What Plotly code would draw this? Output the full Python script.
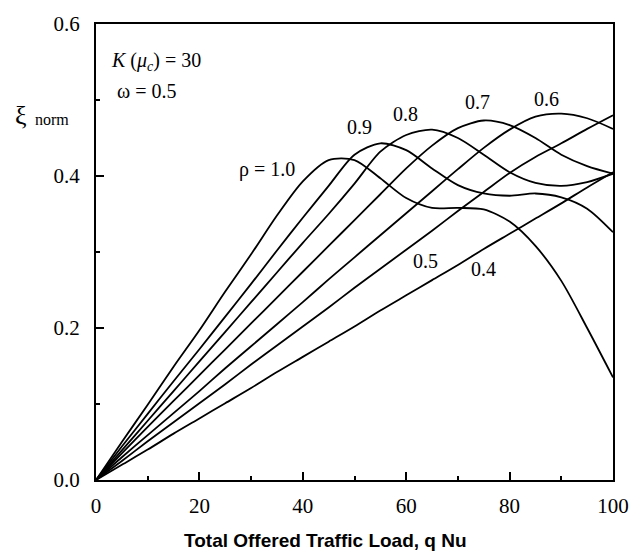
import plotly.graph_objects as go

load = [0, 5, 10, 15, 20, 25, 30, 35, 40, 45, 50, 55, 60, 65, 70, 75, 80, 85, 90, 95, 100]

rho_1_0 = [0, 0.050, 0.099, 0.149, 0.197, 0.248, 0.297, 0.348, 0.393, 0.421, 0.421, 0.397, 0.371, 0.358, 0.358, 0.356, 0.340, 0.308, 0.262, 0.200, 0.135]
rho_0_9 = [0, 0.044, 0.087, 0.130, 0.172, 0.215, 0.258, 0.302, 0.345, 0.387, 0.428, 0.443, 0.434, 0.410, 0.388, 0.377, 0.374, 0.377, 0.372, 0.357, 0.326]
rho_0_8 = [0, 0.039, 0.078, 0.117, 0.156, 0.195, 0.234, 0.273, 0.312, 0.350, 0.390, 0.432, 0.454, 0.461, 0.450, 0.428, 0.405, 0.391, 0.387, 0.392, 0.403]
rho_0_7 = [0, 0.035, 0.070, 0.104, 0.138, 0.172, 0.206, 0.240, 0.274, 0.308, 0.342, 0.376, 0.410, 0.440, 0.463, 0.473, 0.467, 0.450, 0.428, 0.413, 0.403]
rho_0_6 = [0, 0.030, 0.059, 0.088, 0.117, 0.147, 0.176, 0.205, 0.234, 0.264, 0.293, 0.322, 0.351, 0.380, 0.409, 0.437, 0.461, 0.478, 0.482, 0.476, 0.462]
rho_0_5 = [0, 0.025, 0.051, 0.076, 0.101, 0.126, 0.152, 0.177, 0.202, 0.227, 0.253, 0.278, 0.303, 0.328, 0.354, 0.379, 0.404, 0.425, 0.443, 0.462, 0.480]
rho_0_4 = [0, 0.020, 0.040, 0.061, 0.081, 0.101, 0.121, 0.142, 0.162, 0.182, 0.202, 0.223, 0.243, 0.263, 0.283, 0.304, 0.324, 0.344, 0.364, 0.385, 0.405]

series = [rho_1_0, rho_0_9, rho_0_8, rho_0_7, rho_0_6, rho_0_5, rho_0_4]
series_names = ["ρ = 1.0", "0.9", "0.8", "0.7", "0.6", "0.5", "0.4"]
label_x = [33.0, 50.9, 59.8, 73.8, 87.2, 63.8, 74.9]
label_y = [0.409, 0.465, 0.481, 0.497, 0.501, 0.288, 0.277]

x_ticks = [0, 20, 40, 60, 80, 100]
y_ticks = [0.0, 0.2, 0.4, 0.6]

serif = "Liberation Serif, Times New Roman, serif"

fig = go.Figure()
for vals, name in zip(series, series_names):
    fig.add_trace(go.Scatter(x=load, y=vals, mode="lines", name=name,
                             line=dict(color="black", width=1.8, shape="spline", smoothing=0.8),
                             showlegend=False, hoverinfo="skip"))

for name, lx, ly in zip(series_names, label_x, label_y):
    fig.add_annotation(x=lx, y=ly, xref="x", yref="y", text=name, showarrow=False,
                       font=dict(family=serif, size=20, color="black"))

fig.add_annotation(x=2.6, y=0.551, xref="x", yref="y", xanchor="left",
                   text="<i>K</i> (<i>μ<sub>c</sub></i>) = 30", showarrow=False,
                   font=dict(family=serif, size=20, color="black"))
fig.add_annotation(x=3.6, y=0.512, xref="x", yref="y", xanchor="left",
                   text="ω = 0.5", showarrow=False,
                   font=dict(family=serif, size=20, color="black"))

# y-axis label: xi (large) + "norm" (small)
fig.add_annotation(x=-0.160, y=0.800, xref="paper", yref="paper", xanchor="left", yanchor="middle",
                   text="ξ", showarrow=False, font=dict(family=serif, size=26, color="black"))
fig.add_annotation(x=-0.122, y=0.790, xref="paper", yref="paper", xanchor="left", yanchor="middle",
                   text="norm", showarrow=False, font=dict(family=serif, size=16, color="black"))

fig.add_annotation(x=0.443, y=-0.133, xref="paper", yref="paper", xanchor="center", yanchor="middle",
                   text="<b>Total Offered Traffic Load, q Nu</b>", showarrow=False,
                   font=dict(family="Liberation Sans, Arial, sans-serif", size=19, color="black"))

fig.update_layout(
    width=641, height=558,
    margin=dict(l=96, r=15, t=15, b=78),
    paper_bgcolor="white", plot_bgcolor="white",
    xaxis=dict(range=[0, 100], tickvals=x_ticks, ticktext=[str(v) for v in x_ticks],
               ticks="inside", ticklen=8, tickwidth=1.5, tickcolor="black",
               showline=True, linewidth=2, linecolor="black", mirror=True,
               showgrid=False, zeroline=False, ticklabelstandoff=6,
               ticklabeloverflow="allow",
               tickfont=dict(family=serif, size=21, color="black"),
               minor=dict(tickvals=[10, 30, 50, 70, 90], ticks="inside", ticklen=4, tickcolor="black", tickwidth=1.5)),
    yaxis=dict(range=[0, 0.6], tickvals=y_ticks, ticktext=["%.1f" % v for v in y_ticks],
               ticks="inside", ticklen=8, tickwidth=1.5, tickcolor="black",
               showline=True, linewidth=2, linecolor="black", mirror=True,
               showgrid=False, zeroline=False, ticklabelstandoff=10,
               ticklabeloverflow="allow",
               tickfont=dict(family=serif, size=21, color="black"),
               minor=dict(tickvals=[0.1, 0.3, 0.5], ticks="inside", ticklen=4, tickcolor="black", tickwidth=1.5)),
)

fig.write_html("out.html")
